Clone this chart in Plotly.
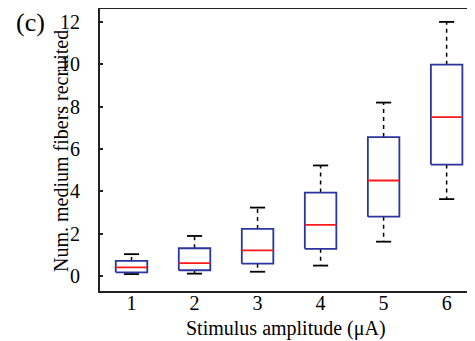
import plotly.graph_objects as go

amps = [1, 2, 3, 4, 5, 6]
lower = [0.09, 0.11, 0.2, 0.49, 1.62, 3.63]
q1 = [0.17, 0.27, 0.58, 1.28, 2.80, 5.26]
median = [0.41, 0.61, 1.21, 2.41, 4.51, 7.5]
q3 = [0.71, 1.31, 2.22, 3.94, 6.56, 9.98]
upper = [1.03, 1.89, 3.23, 5.22, 8.19, 12.0]
yticks = [0, 2, 4, 6, 8, 10, 12]

BW = 0.25   # half box width
CW = 0.12   # half cap width
BLUE = "#2b35a0"
RED = "#ff1a1a"
FONT = "Liberation Serif"

bx, by, mx, my, wx, wy, cx, cy = [], [], [], [], [], [], [], []
for a, lo, b1, m, b3, hi in zip(amps, lower, q1, median, q3, upper):
    bx += [a - BW, a + BW, a + BW, a - BW, a - BW, None]
    by += [b1, b1, b3, b3, b1, None]
    mx += [a - BW, a + BW, None]
    my += [m, m, None]
    wx += [a, a, None, a, a, None]
    wy += [b3, hi, None, b1, lo, None]
    cx += [a - CW, a + CW, None, a - CW, a + CW, None]
    cy += [hi, hi, None, lo, lo, None]

fig = go.Figure()
fig.add_trace(go.Scatter(x=wx, y=wy, mode="lines",
                         line=dict(color="black", width=1.5, dash="4px,4px"),
                         hoverinfo="skip"))
fig.add_trace(go.Scatter(x=cx, y=cy, mode="lines",
                         line=dict(color="black", width=1.8), hoverinfo="skip"))
fig.add_trace(go.Scatter(x=bx, y=by, mode="lines",
                         line=dict(color=BLUE, width=1.8), hoverinfo="skip"))
fig.add_trace(go.Scatter(x=mx, y=my, mode="lines",
                         line=dict(color=RED, width=1.8), hoverinfo="skip"))

# page body has an 8px margin; figure placed so plot area sits at x 100..475, y 9..291
fig.update_layout(
    width=467, height=333,
    margin=dict(l=92, r=0, t=1, b=50, autoexpand=False),
    paper_bgcolor="white", plot_bgcolor="white",
    showlegend=False,
    font=dict(family=FONT, color="black", size=20),
    xaxis=dict(range=[0.5, 6.45], tickvals=amps, ticktext=[str(a) for a in amps],
               showline=True, mirror=True, linecolor="#222", linewidth=2,
               showgrid=False, zeroline=False, ticks="", ticklabelstandoff=-7,
               tickfont=dict(family=FONT, size=20)),
    yaxis=dict(range=[-0.71, 12.61], tickvals=yticks,
               showline=True, mirror=False, linecolor="#222", linewidth=2,
               showgrid=False, zeroline=False, ticks="inside", ticklen=3,
               tickcolor="#222", tickwidth=1.5, ticklabelstandoff=14,
               tickfont=dict(family=FONT, size=20)),
    annotations=[
        dict(text="Stimulus amplitude (μA)", xref="paper", yref="paper",
             x=(286 - 100) / 375, y=-(328 - 291) / 282, xanchor="center", yanchor="middle",
             showarrow=False, font=dict(family=FONT, size=20)),
        dict(text="Num. medium fibers recruited", xref="paper", yref="paper",
             x=-(100 - 61) / 375, y=(291 - 151) / 282, xanchor="center", yanchor="middle",
             textangle=-90, showarrow=False, font=dict(family=FONT, size=20)),
        dict(text="(c)", xref="paper", yref="paper",
             x=-(100 - 30) / 375, y=(291 - 23) / 282, xanchor="center", yanchor="middle",
             showarrow=False, font=dict(family=FONT, size=26)),
    ],
)

fig.write_html("out.html")
